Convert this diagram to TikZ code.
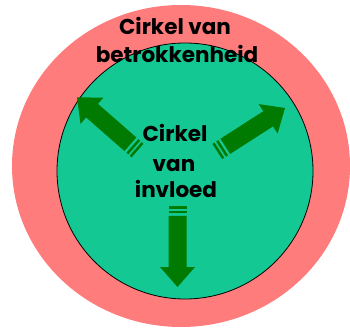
\documentclass[tikz,border=0pt]{standalone}
\usepackage{fontspec}
\setmainfont{Poppins}
\definecolor{outerred}{RGB}{255,124,124}
\definecolor{innergreen}{RGB}{20,200,148}
\definecolor{arrowgreen}{RGB}{0,122,0}
\newcommand{\greenarrow}[3]{%
  \begin{scope}[shift={(#1,#2)},rotate=#3]
    \fill[arrowgreen] (0,0) -- (-20,17.5) -- (-20,9) -- (-71,9) -- (-71,-9) -- (-20,-9) -- (-20,-17.5) -- cycle;
    \fill[arrowgreen] (-76,9) rectangle (-73.5,-9);
    \fill[arrowgreen] (-80.5,9) rectangle (-78,-9);
  \end{scope}}
\tikzset{lbl/.style={font=\fontsize{21.5}{24}\selectfont\bfseries, anchor=base, inner sep=0pt, text=black}}
\begin{document}
\begin{tikzpicture}[x=1pt,y=1pt]
\useasboundingbox (0,0) rectangle (350,329);
\fill[outerred] (181,163) ellipse [x radius=169, y radius=161];
\filldraw[fill=innergreen, draw=black, line width=0.8pt] (185,158) circle [radius=128];
\node[lbl] (t1) at (175,294) {Cirkel van};
\node[lbl] (t2) at (177,266) {betrokkenheid};
\greenarrow{77}{231.5}{138.8}
\greenarrow{285}{221}{32.7}
\greenarrow{177.5}{42}{-90}
\node[lbl] (c1) at (175,187.5) {Cirkel};
\node[lbl] (c2) at (174,157) {van};
\node[lbl] (c3) at (176,131) {invloed};
\end{tikzpicture}
\end{document}
